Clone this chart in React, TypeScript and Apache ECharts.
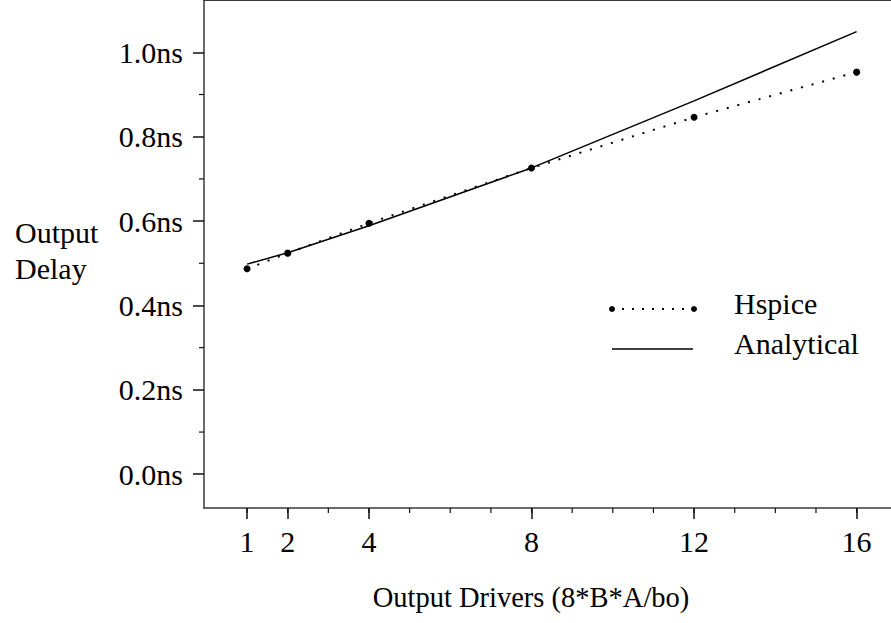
import React, { useEffect, useRef } from "react";
import * as echarts from "echarts";

const drivers = [1, 2, 4, 8, 12, 16];
const hspice = [0.487, 0.524, 0.595, 0.726, 0.846, 0.953];
const analytical = [0.498, 0.525, 0.589, 0.726, 0.885, 1.049];
const xMajorTicks = [1, 2, 4, 8, 12, 16];
const xMinorTicks = [1, 2, 3, 4, 5, 6, 7, 8, 9, 10, 11, 12, 13, 14, 15, 16];
const yMajorTicks = [0, 0.2, 0.4, 0.6, 0.8, 1.0];
const yMinorTicks = [0.1, 0.3, 0.5, 0.7, 0.9];
const yNameLines = ["Output", "Delay"];
const xName = "Output Drivers (8*B*A/bo)";
const legendNames = ["Hspice", "Analytical"];

const FONT = "Liberation Serif";
const AX = "#3a3a3a";

export default function App() {
  const ref = useRef<HTMLDivElement>(null);
  useEffect(() => {
    if (!ref.current) return;
    const chart = echarts.init(ref.current, undefined, { renderer: "svg" });
    const xMin = -0.06, xMax = 16.92, yMin = -0.08, yMax = 1.124;
    const baseX = {
      type: "value" as const,
      min: xMin,
      max: xMax,
      splitLine: { show: false },
    };
    const baseY = {
      type: "value" as const,
      min: yMin,
      max: yMax,
      splitLine: { show: false },
    };
    chart.setOption({
      animation: false,
      backgroundColor: "#fff",
      grid: {
        left: 204,
        top: 0,
        width: 690,
        height: 508,
        show: false,
        outerBoundsMode: "none",
      },
      xAxis: [
        {
          ...baseX,
          position: "bottom",
          axisLine: { show: true, onZero: false, lineStyle: { color: AX, width: 1.5 } },
          axisTick: { show: true, length: 11, customValues: xMajorTicks, lineStyle: { color: "#111", width: 1.5 } },
          axisLabel: {
            show: true,
            customValues: xMajorTicks,
            margin: 18,
            fontFamily: FONT,
            fontSize: 30,
            color: "#000",
          },
        },
        {
          ...baseX,
          position: "top",
          axisLine: { show: true, onZero: false, lineStyle: { color: AX, width: 2 } },
          axisTick: { show: false },
          axisLabel: { show: false },
        },
      ],
      yAxis: [
        {
          ...baseY,
          position: "left",
          axisLine: { show: true, onZero: false, lineStyle: { color: AX, width: 1.5 } },
          axisTick: { show: true, length: 11, customValues: yMajorTicks, lineStyle: { color: "#111", width: 1.5 } },
          axisLabel: {
            show: true,
            customValues: yMajorTicks,
            margin: 21,
            fontFamily: FONT,
            fontSize: 30,
            color: "#000",
            formatter: (v: number) => v.toFixed(1) + "ns",
          },
        },
      ],
      series: [
        {
          name: legendNames[0],
          type: "line",
          data: drivers.map((d, i) => [d, hspice[i]]),
          symbol: "circle",
          symbolSize: 7,
          itemStyle: { color: "#000" },
          lineStyle: { color: "#000", width: 2, type: [2, 9] },
          z: 3,
        },
        {
          name: legendNames[1],
          type: "line",
          data: drivers.map((d, i) => [d, analytical[i]]),
          symbol: "none",
          lineStyle: { color: "#000", width: 1.5, type: "solid" },
          z: 2,
        },
        {
          type: "custom",
          silent: true,
          data: xMinorTicks.map((v) => [v, yMin]),
          renderItem: (params: any, api: any) => {
            const p = api.coord([api.value(0), api.value(1)]);
            return {
              type: "line",
              shape: { x1: p[0], y1: p[1], x2: p[0], y2: p[1] + 5 },
              style: { stroke: "#111", lineWidth: 1.2 },
            };
          },
          clip: false,
          z: 1,
        },
        {
          type: "custom",
          silent: true,
          data: yMinorTicks.map((v) => [xMin, v]),
          renderItem: (params: any, api: any) => {
            const p = api.coord([api.value(0), api.value(1)]);
            return {
              type: "line",
              shape: { x1: p[0] - 5, y1: p[1], x2: p[0], y2: p[1] },
              style: { stroke: "#111", lineWidth: 1.2 },
            };
          },
          clip: false,
          z: 1,
        },
      ],
      graphic: [
        {
          type: "rect",
          shape: { x: 884, y: 3, width: 10, height: 503 },
          style: { fill: "#fff" },
          z: 100,
        },
        {
          type: "text",
          left: 15,
          top: 214,
          style: {
            text: yNameLines.join("\n"),
            fontFamily: FONT,
            fontSize: 30,
            lineHeight: 36,
            fill: "#000",
            align: "left",
          },
        },
        {
          type: "text",
          x: 531,
          y: 597,
          style: {
            text: xName,
            fontFamily: FONT,
            fontSize: 28.5,
            fill: "#000",
            align: "center",
            verticalAlign: "middle",
          },
        },
        {
          type: "line",
          shape: { x1: 612, y1: 309, x2: 694, y2: 309 },
          style: { stroke: "#000", lineWidth: 2, lineDash: [2, 8] },
        },
        { type: "circle", shape: { cx: 612, cy: 309, r: 3 }, style: { fill: "#000" } },
        { type: "circle", shape: { cx: 694, cy: 309, r: 3 }, style: { fill: "#000" } },
        {
          type: "text",
          x: 734,
          y: 303,
          style: { text: legendNames[0], fontFamily: FONT, fontSize: 30, fill: "#000", verticalAlign: "middle" },
        },
        {
          type: "line",
          shape: { x1: 612, y1: 349, x2: 693, y2: 349 },
          style: { stroke: "#000", lineWidth: 1.5 },
        },
        {
          type: "text",
          x: 734,
          y: 343,
          style: { text: legendNames[1], fontFamily: FONT, fontSize: 30, fill: "#000", verticalAlign: "middle" },
        },
      ],
    });
    return () => chart.dispose();
  }, []);
  return (
    <div
      ref={ref}
      style={{ position: "absolute", left: 0, top: 0, width: 891, height: 623, background: "#fff" }}
    />
  );
}
